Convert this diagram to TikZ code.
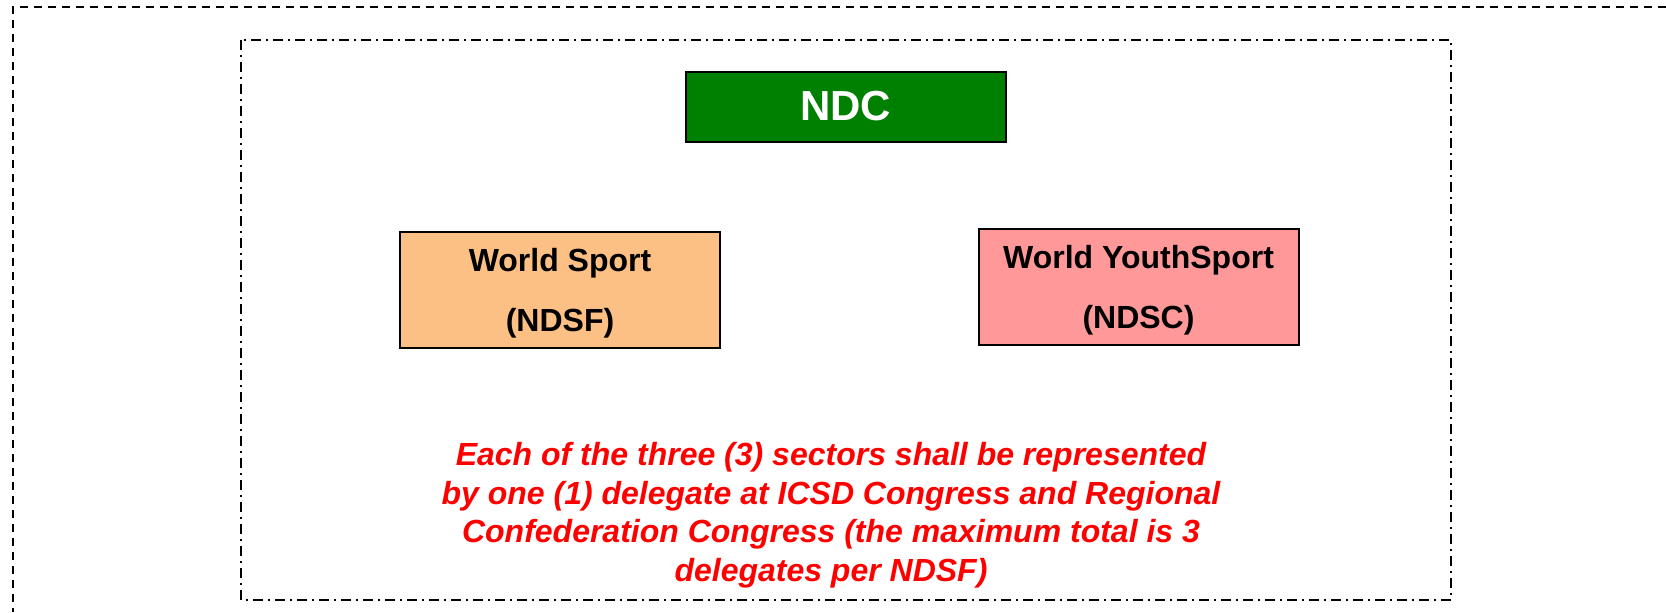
\documentclass[tikz,border=0pt]{standalone}
\usepackage{fontspec}
\setmainfont{Liberation Sans}

\definecolor{ndcgreen}{RGB}{0,128,0}
\definecolor{sportorange}{RGB}{252,192,132}
\definecolor{youthpink}{RGB}{255,153,153}
\definecolor{noteRed}{RGB}{255,0,0}

\tikzset{
  sectorbox/.style={draw=black, line width=1pt, minimum width=160pt, minimum height=58pt, inner sep=0pt},
  sectortext/.style={align=center, inner sep=0pt, yshift=-2pt, font=\fontsize{16}{30}\selectfont\bfseries},
  outerframe/.style={line width=1pt, dash pattern=on 4pt off 3pt},
  innerframe/.style={line width=0.9pt, dash pattern=on 5pt off 2.5pt on 1pt off 2.5pt}
}

\begin{document}
\begin{tikzpicture}[x=0.5pt, y=-0.5pt]%
\useasboundingbox (0, 0) rectangle (1666, 612);%
% frames
\draw[outerframe] (1666, 7) -- (13, 7) -- (13, 612);%
\draw[innerframe] (241, 40) rectangle (1451, 600);%
% NDC
\node[draw=black, line width=1pt, fill=ndcgreen, minimum width=160pt, minimum height=35pt,
  inner sep=0pt, text=white, font=\fontsize{21}{24}\selectfont\bfseries] (ndc) at (845.5, 106.5) {\raisebox{-1pt}{NDC}};%
% sectors
\node[sectorbox, fill=sportorange] (sport) at (560, 289.5) {};%
\node[sectortext] (sporttext) at (sport.center) {World Sport\\(NDSF)};%
\node[sectorbox, fill=youthpink] (youth) at (1138.5, 286.5) {};%
\node[sectortext] (youthtext) at (youth.center) {World YouthSport\\(NDSC)};%
% note
\node[align=center, inner sep=0pt, text=noteRed, font=\fontsize{16}{19.25}\selectfont\bfseries\itshape] (note) at (831, 515) {Each of the three (3) sectors shall be represented\\by one (1) delegate at ICSD Congress and Regional\\Confederation Congress (the maximum total is 3\\delegates per NDSF)};%
\end{tikzpicture}
\end{document}
